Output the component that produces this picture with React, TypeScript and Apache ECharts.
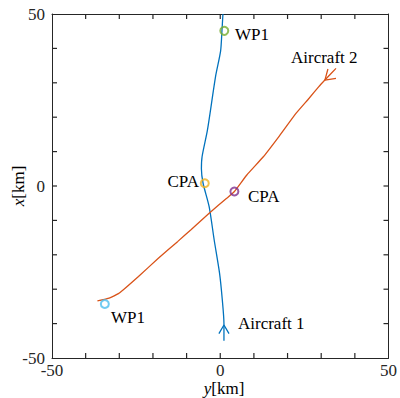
import React, { useEffect, useRef } from "react";
import * as echarts from "echarts";

// Horizontal axis: y [km], vertical axis: x [km]
const aircraft1Path: [number, number][] = [
  [1.1, -45], [1.1, -40], [0.6, -33], [-0.2, -25.4], [-1.8, -15.7], [-3.3, -6.0],
  [-5.1, 0.8], [-5.6, 5.0], [-5.4, 8.5], [-3.8, 16.3], [-1.4, 31.8], [0.1, 39.2],
  [0.5, 45], [0.8, 50],
];
const aircraft2Path: [number, number][] = [
  [-36.5, -33.4], [-33.0, -32.6], [-30.1, -31.2], [-24.3, -26.3], [-18.4, -21.0],
  [-12.6, -16.1], [-8.7, -12.7], [-3.3, -7.9], [2.0, -3.5], [4.2, -1.6], [7.9, 3.2],
  [12.8, 8.5], [17.6, 14.6], [22.5, 21.1], [26.4, 25.5], [29.3, 28.9], [31.1, 30.8],
  [34.4, 34.2],
];
const arrow1: [number, number][] = [[-0.4, -42.9], [1.1, -40.4], [2.6, -42.9]];
const arrow2: [number, number][] = [[32.0, 34.0], [31.1, 30.8], [34.4, 31.3]];

const markerNames = ["WP1", "CPA", "CPA", "WP1"];
const markerPoints: [number, number][] = [[1.2, 45.1], [-4.6, 0.8], [4.2, -1.6], [-34.3, -34.3]];
const markerColors = ["#77AC30", "#EDB120", "#7E2F8E", "#4DBEEE"];

const axisMin = -50;
const axisMax = 50;
const tickStep = 10;
const tickValues = [-40, -30, -20, -10, 0, 10, 20, 30, 40];
const labelTicks = [-50, 0, 50];

const FONT = "Liberation Serif";
const BLUE = "#0072BD";
const ORANGE = "#D95319";
const AXIS = "#262626";
const TICK_LEN = 5;

export default function App() {
  const ref = useRef<HTMLDivElement>(null);
  useEffect(() => {
    if (!ref.current) return;
    const chart = echarts.init(ref.current, undefined, { renderer: "svg" });
    const fmt = (v: number) => (labelTicks.includes(v) ? String(v) : "");
    const baseAxis = (pos: string, showLabel: boolean, isX: boolean) => ({
      type: "value",
      position: pos,
      min: axisMin,
      max: axisMax,
      interval: tickStep,
      splitLine: { show: false },
      axisLine: { show: true, onZero: false, lineStyle: { color: AXIS, width: 1 } },
      axisTick: { show: false },
      axisLabel: {
        show: showLabel,
        formatter: fmt,
        color: AXIS,
        fontFamily: FONT,
        fontSize: 17,
        margin: isX ? 4 : 7,
      },
    });
    const lineSeries = (data: [number, number][], color: string, smooth: number | boolean) => ({
      type: "line",
      data,
      showSymbol: false,
      symbol: "none",
      smooth,
      lineStyle: { color, width: 1.3 },
      z: 2,
    });
    const txt = (text: string, extra: any) => ({
      type: "text",
      ...extra,
      style: {
        text,
        fontFamily: FONT,
        fontSize: 17,
        fill: "#000",
        ...(extra.style || {}),
      },
    });
    const rich = { i: { fontStyle: "italic", fontFamily: FONT, fontSize: 17, fill: "#000" } };
    const tickStyle = { stroke: AXIS, lineWidth: 1.2 };
    chart.setOption({
      animation: false,
      grid: { left: 52, top: 14, right: 6, bottom: 40, containLabel: false },
      xAxis: [baseAxis("bottom", true, true), baseAxis("top", false, true)],
      yAxis: [baseAxis("left", true, false), baseAxis("right", false, false)],
      series: [
        {
          type: "custom",
          silent: true,
          z: 5,
          data: tickValues.map((v) => [v, 0]),
          renderItem: (_params: any, api: any) => {
            const v = api.value(0);
            const b = api.coord([v, axisMin]);
            const t = api.coord([v, axisMax]);
            const l = api.coord([axisMin, v]);
            const r = api.coord([axisMax, v]);
            return {
              type: "group",
              children: [
                { type: "line", shape: { x1: b[0], y1: b[1], x2: b[0], y2: b[1] - TICK_LEN }, style: tickStyle },
                { type: "line", shape: { x1: t[0], y1: t[1], x2: t[0], y2: t[1] + TICK_LEN }, style: tickStyle },
                { type: "line", shape: { x1: l[0], y1: l[1], x2: l[0] + TICK_LEN, y2: l[1] }, style: tickStyle },
                { type: "line", shape: { x1: r[0], y1: r[1], x2: r[0] - TICK_LEN, y2: r[1] }, style: tickStyle },
              ],
            };
          },
        },
        lineSeries(aircraft1Path, BLUE, 0.25),
        lineSeries(aircraft2Path, ORANGE, 0.12),
        lineSeries(arrow1, BLUE, false),
        lineSeries(arrow2, ORANGE, false),
        {
          type: "scatter",
          symbol: "circle",
          symbolSize: 8,
          z: 3,
          data: markerPoints.map((p, i) => ({
            name: markerNames[i],
            value: p,
            itemStyle: { color: "rgba(255,255,255,0)", borderColor: markerColors[i], borderWidth: 2 },
          })),
        },
      ],
      graphic: [
        txt("WP1", { x: 235, y: 34, style: { verticalAlign: "middle" } }),
        txt("Aircraft 2", { x: 291, y: 57, style: { verticalAlign: "middle" } }),
        txt("CPA", { x: 199, y: 181, style: { align: "right", verticalAlign: "middle" } }),
        txt("CPA", { x: 248, y: 196, style: { verticalAlign: "middle" } }),
        txt("WP1", { x: 111, y: 317, style: { verticalAlign: "middle" } }),
        txt("Aircraft 1", { x: 238, y: 323, style: { verticalAlign: "middle" } }),
        txt("{i|y}[km]", { x: 224, y: 388, style: { align: "center", verticalAlign: "middle", rich } }),
        txt("{i|x}[km]", {
          x: 18,
          y: 186,
          rotation: Math.PI / 2,
          style: { align: "center", verticalAlign: "middle", rich },
        }),
      ],
    });
    return () => chart.dispose();
  }, []);
  return (
    <div
      ref={ref}
      style={{ position: "fixed", left: 0, top: 0, width: 400, height: 398, background: "#fff" }}
    />
  );
}
